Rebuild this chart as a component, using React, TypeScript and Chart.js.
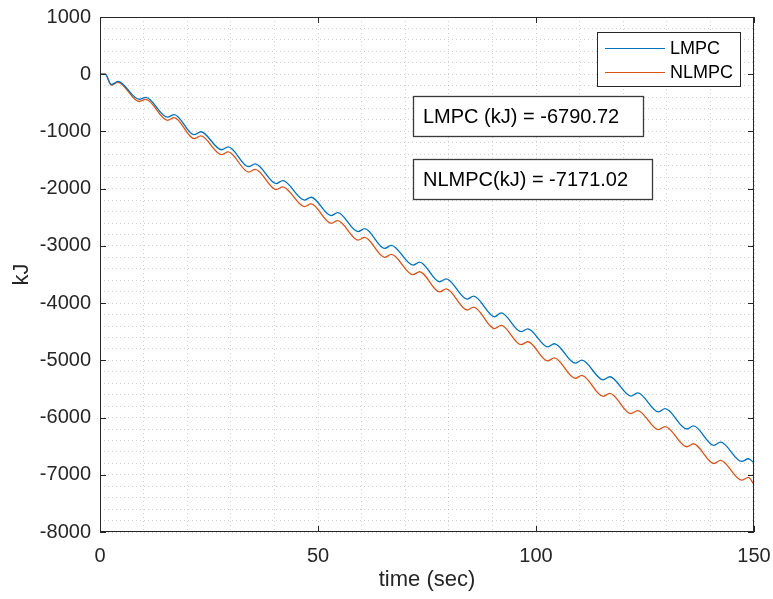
import React, { useEffect, useRef } from "react";
import { Chart, registerables } from "chart.js";

Chart.register(...registerables);

// ---- data ----
const timeSec = [
  0, 1.2, 2.6, 4.1, 9.0, 10.5, 15.5, 17.0, 21.6, 23.1, 27.9, 29.4, 34.1, 35.6,
  40.4, 41.9, 46.9, 48.4, 53.0, 54.5, 59.2, 60.7, 65.3, 66.8, 71.8, 73.3, 77.9,
  79.4, 84.2, 85.7, 90.5, 92.0, 96.6, 98.1, 102.7, 104.2, 109.0, 110.5, 115.4,
  116.9, 121.8, 123.3, 128.1, 129.6, 134.6, 136.1, 140.8, 142.3, 147.2, 148.7, 150,
];

const lmpcKJ = [
  0, 0, -180, -125, -437, -405, -750, -705, -1057, -1005, -1320, -1270, -1615,
  -1565, -1911, -1860, -2199, -2150, -2470, -2420, -2750, -2700, -3045, -2990,
  -3336, -3285, -3627, -3575, -3930, -3878, -4240, -4170, -4500, -4450, -4764,
  -4710, -5050, -4998, -5340, -5287, -5626, -5568, -5900, -5845, -6200, -6145,
  -6486, -6430, -6766, -6720, -6790,
];

const nlmpcKJ = [
  0, 0, -190, -140, -477, -440, -805, -760, -1127, -1078, -1405, -1358, -1710,
  -1662, -2016, -1968, -2314, -2266, -2605, -2558, -2900, -2852, -3200, -3150,
  -3501, -3452, -3802, -3752, -4120, -4070, -4445, -4390, -4725, -4675, -5009,
  -4958, -5315, -5262, -5630, -5578, -5931, -5878, -6210, -6158, -6510, -6458,
  -6803, -6750, -7094, -7045, -7171,
];

const seriesNames = ["LMPC", "NLMPC"];
const seriesColors = ["#0072BD", "#D95319"];
const annotationTexts = ["LMPC (kJ) = -6790.72", "NLMPC(kJ) = -7171.02"];
const xMajorTicks = [0, 50, 100, 150];
const yMajorTicks = [-8000, -7000, -6000, -5000, -4000, -3000, -2000, -1000, 0, 1000];
const xTitle = "time (sec)";
const yTitle = "kJ";

const FONT = '"Liberation Sans", Arial, Helvetica, sans-serif';
const AXIS_COLOR = "#262626";
const GRID_COLOR = "rgba(38,38,38,0.22)";

const zeroPad = (s: any) => {
  s.paddingLeft = 0;
  s.paddingRight = 0;
  s.paddingTop = 0;
  s.paddingBottom = 0;
};

const overlayPlugin = {
  id: "overlay",
  afterDatasetsDraw(chart: any) {
    const { ctx, chartArea, scales } = chart;
    const { left, right, top, bottom } = chartArea;
    const x = scales.x;
    const y = scales.y;
    ctx.save();

    // axes box
    ctx.strokeStyle = AXIS_COLOR;
    ctx.lineWidth = 1;
    ctx.setLineDash([]);
    ctx.strokeRect(left + 0.5, top + 0.5, right - left - 1, bottom - top - 1);

    // inward major ticks
    ctx.beginPath();
    for (const v of yMajorTicks) {
      const py = Math.round(y.getPixelForValue(v)) + 0.5;
      ctx.moveTo(left, py);
      ctx.lineTo(left + 6, py);
      ctx.moveTo(right - 6, py);
      ctx.lineTo(right, py);
    }
    for (const v of xMajorTicks) {
      const px = Math.round(x.getPixelForValue(v)) + 0.5;
      ctx.moveTo(px, bottom);
      ctx.lineTo(px, bottom - 6);
      ctx.moveTo(px, top);
      ctx.lineTo(px, top + 6);
    }
    ctx.stroke();

    // axis titles
    ctx.fillStyle = AXIS_COLOR;
    ctx.font = `22px ${FONT}`;
    ctx.textAlign = "center";
    ctx.textBaseline = "middle";
    ctx.fillText(xTitle, (left + right) / 2, 580);
    ctx.save();
    ctx.translate(22, (top + bottom) / 2);
    ctx.rotate(-Math.PI / 2);
    ctx.fillText(yTitle, 0, 0);
    ctx.restore();

    // legend
    const lgX = 597, lgY = 32, lgW = 143, lgH = 54;
    ctx.fillStyle = "#ffffff";
    ctx.fillRect(lgX, lgY, lgW, lgH);
    ctx.strokeStyle = AXIS_COLOR;
    ctx.lineWidth = 1;
    ctx.strokeRect(lgX + 0.5, lgY + 0.5, lgW, lgH);
    ctx.font = `18px ${FONT}`;
    ctx.textAlign = "left";
    ctx.textBaseline = "middle";
    seriesNames.forEach((name, i) => {
      const ly = lgY + 16 + i * 24 + 0.5;
      ctx.strokeStyle = seriesColors[i];
      ctx.lineWidth = 1.2;
      ctx.beginPath();
      ctx.moveTo(lgX + 8, ly);
      ctx.lineTo(lgX + 68, ly);
      ctx.stroke();
      ctx.fillStyle = "#000000";
      ctx.fillText(name, lgX + 73, ly + 1);
    });

    // annotation text boxes
    const boxes = [
      { x: 413, y: 96, w: 230, h: 40 },
      { x: 413, y: 159, w: 239, h: 40 },
    ];
    ctx.font = `20px ${FONT}`;
    boxes.forEach((b, i) => {
      ctx.fillStyle = "#ffffff";
      ctx.fillRect(b.x, b.y, b.w, b.h);
      ctx.strokeStyle = "#3a3a3a";
      ctx.lineWidth = 1.3;
      ctx.strokeRect(b.x + 0.5, b.y + 0.5, b.w, b.h);
      ctx.fillStyle = "#000000";
      ctx.fillText(annotationTexts[i], b.x + 10, b.y + b.h / 2 + 1);
    });

    ctx.restore();
  },
};

export default function App() {
  const canvasRef = useRef<HTMLCanvasElement | null>(null);

  useEffect(() => {
    const canvas = canvasRef.current;
    if (!canvas) return;
    const chart = new Chart(canvas, {
      type: "line",
      data: {
        datasets: [
          {
            label: seriesNames[0],
            data: timeSec.map((t, i) => ({ x: t, y: lmpcKJ[i] })),
            borderColor: seriesColors[0],
            borderWidth: 1.3,
            pointRadius: 0,
            fill: false,
            cubicInterpolationMode: "monotone",
          },
          {
            label: seriesNames[1],
            data: timeSec.map((t, i) => ({ x: t, y: nlmpcKJ[i] })),
            borderColor: seriesColors[1],
            borderWidth: 1.3,
            pointRadius: 0,
            fill: false,
            cubicInterpolationMode: "monotone",
          },
        ],
      },
      options: {
        responsive: false,
        animation: false,
        devicePixelRatio: 1,
        layout: { padding: { left: 0, top: 17, right: 19, bottom: 0 } },
        plugins: {
          legend: { display: false },
          tooltip: { enabled: false },
        },
        scales: {
          x: {
            type: "linear",
            min: 0,
            max: 150,
            afterFit: (s: any) => {
              s.height = 67;
              zeroPad(s);
            },
            ticks: {
              stepSize: 10,
              autoSkip: false,
              maxRotation: 0,
              padding: 12,
              color: AXIS_COLOR,
              font: { family: FONT, size: 20 },
              callback: (v: any) => (Number(v) % 50 === 0 ? String(v) : ""),
            },
            grid: { color: GRID_COLOR, lineWidth: 1, drawTicks: false },
            border: { display: false, dash: [1, 3] },
          },
          y: {
            type: "linear",
            min: -8000,
            max: 1000,
            afterFit: (s: any) => {
              s.width = 100;
              zeroPad(s);
            },
            ticks: {
              stepSize: 200,
              autoSkip: false,
              padding: 9,
              color: AXIS_COLOR,
              font: { family: FONT, size: 20 },
              callback: (v: any) =>
                Math.abs(Number(v) % 1000) < 1e-6 ? String(Math.round(Number(v))) : "",
            },
            grid: { color: GRID_COLOR, lineWidth: 1, drawTicks: false },
            border: { display: false, dash: [1, 3] },
          },
        },
      },
      plugins: [overlayPlugin],
    } as any);
    return () => chart.destroy();
  }, []);

  return (
    <div
      style={{
        position: "fixed",
        left: 0,
        top: 0,
        width: 773,
        height: 599,
        background: "#ffffff",
      }}
    >
      <canvas ref={canvasRef} width={773} height={599} style={{ display: "block" }} />
    </div>
  );
}
